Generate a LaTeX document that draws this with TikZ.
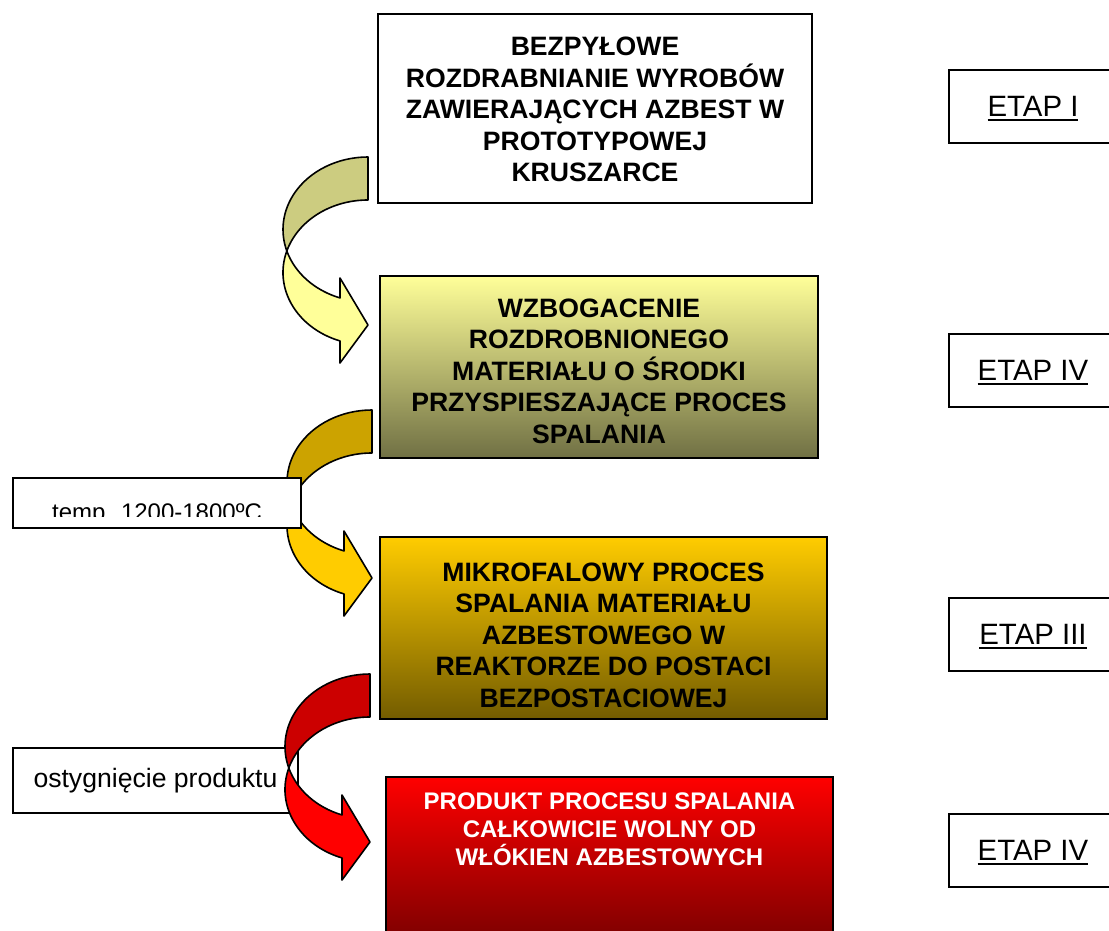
\documentclass[tikz,border=0pt]{standalone}
\usepackage{fontspec}
\setmainfont{Liberation Sans}
\usetikzlibrary{positioning}

\definecolor{lemon}{RGB}{255,255,153}
\definecolor{olivy}{RGB}{204,204,128}
\definecolor{olivebot}{RGB}{112,112,68}
\definecolor{golden}{RGB}{255,204,0}
\definecolor{golddark}{RGB}{204,163,0}
\definecolor{goldbot}{RGB}{115,92,0}
\definecolor{redtop}{RGB}{255,0,0}
\definecolor{reddark}{RGB}{204,0,0}
\definecolor{redbot}{RGB}{110,0,0}

\newsavebox{\ulbox}
\newcommand{\etapline}[1]{\sbox{\ulbox}{#1}\smash{\rlap{\rule[-2.35pt]{\wd\ulbox}{1.35pt}}}\usebox{\ulbox}}

\tikzset{
  stagebox/.style={draw, line width=0.9pt, inner sep=0pt, outer sep=0pt},
  stagetext/.style={align=center, inner sep=0pt, font=\fontsize{13.3}{15.75}\selectfont\bfseries},
  etapbox/.style={draw, line width=0.9pt, fill=white, inner sep=0pt, minimum width=84pt, minimum height=36.5pt, font=\fontsize{14.7}{17}\selectfont},
  notebox/.style={draw, line width=0.9pt, fill=white, inner sep=0pt, outer sep=0pt},
  arrowline/.style={draw=black, line width=0.8pt, line join=round},
  pics/bentarrow/.style 2 args={code={
    \path[arrowline, fill=#1] (0,0)
      arc[start angle=90, end angle=197.25, x radius=42.5pt, y radius=36.25pt]
      arc[start angle=162.75, end angle=90, x radius=42.5pt, y radius=36.25pt] -- cycle;
    \path[arrowline, fill=#2] (-81.18,94)
      arc[start angle=162.75, end angle=250.77, x radius=42.5pt, y radius=36.25pt]
      -- (-28,206) -- (0,168) -- (-28,121) -- (-28,140.95)
      arc[start angle=250.77, end angle=197.25, x radius=42.5pt, y radius=36.25pt] -- cycle;
  }}
}

\begin{document}
\begin{tikzpicture}[x=0.5pt, y=-0.5pt]
		\fill[white] (0,0) rectangle (1109,931);
		\useasboundingbox (0,0) rectangle (1109,931);

		\node[notebox, minimum width=142.5pt, minimum height=32.5pt, font=\fontsize{13.3}{15}\selectfont] (cool) at (155.5,780.5) {ostygnięcie produktu};

		\pic at (368,157) {bentarrow={olivy}{lemon}};
		\pic at (372,410) {bentarrow={golddark}{golden}};
		\pic at (370,674) {bentarrow={reddark}{redtop}};

		\node[notebox, minimum width=144pt, minimum height=25pt] (heat) at (157,503) {};
		\begin{scope}
			\clip (heat.north west) rectangle ([yshift=6pt]heat.south east);
			\node[anchor=base, inner sep=0pt, font=\fontsize{12}{14}\selectfont] (heatlabel) at (157,520.5) {temp. 1200-1800ºC};
		\end{scope}

		\node[stagebox, minimum width=217pt, minimum height=94.5pt, fill=white] (crush) at (595,108.5) {};
		\node[stagetext] (crushlabel) at ([yshift=-0.5pt]crush.center) {BEZPYŁOWE\\ROZDRABNIANIE WYROBÓW\\ZAWIERAJĄCYCH AZBEST W\\PROTOTYPOWEJ\\KRUSZARCE};

		\node[stagebox, minimum width=219pt, minimum height=91pt, top color=lemon, bottom color=olivebot] (enrich) at (599,367) {};
		\node[stagetext] (enrichlabel) at ([yshift=-2pt]enrich.center) {WZBOGACENIE\\ROZDROBNIONEGO\\MATERIAŁU O ŚRODKI\\PRZYSPIESZAJĄCE PROCES\\SPALANIA};

		\node[stagebox, minimum width=223.5pt, minimum height=91pt, top color=golden, bottom color=goldbot] (burn) at (603.5,628) {};
		\node[stagetext] (burnlabel) at ([yshift=-3.5pt]burn.center) {MIKROFALOWY PROCES\\SPALANIA MATERIAŁU\\AZBESTOWEGO W\\REAKTORZE DO POSTACI\\BEZPOSTACIOWEJ};

		\node[stagebox, minimum width=223.5pt, minimum height=91pt, top color=redtop, bottom color=redbot] (product) at (609.5,868) {};
		\node[below=7.5pt of product.north, align=center, inner sep=0pt, text=white, font=\fontsize{12}{14}\selectfont\bfseries] (productlabel) {PRODUKT PROCESU SPALANIA\\CAŁKOWICIE WOLNY OD\\WŁÓKIEN AZBESTOWYCH};

		\node[etapbox] (stage1) at (1033,106.5) {\etapline{ETAP I}};
		\node[etapbox] (stage2) at (1033,370.5) {\etapline{ETAP IV}};
		\node[etapbox] (stage3) at (1033,634.5) {\etapline{ETAP III}};
		\node[etapbox] (stage4) at (1033,850.5) {\etapline{ETAP IV}};
\end{tikzpicture}
\end{document}
